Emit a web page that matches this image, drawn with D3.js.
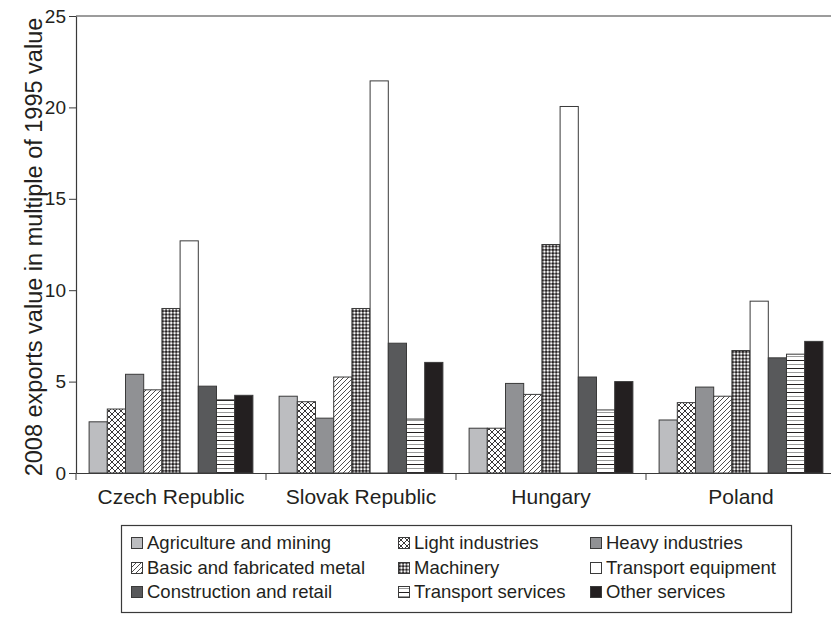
<html>
<head>
  <title>Exports growth 1995-2008</title>
  <script src='https://d3js.org/d3.v7.min.js'></script>
  <style>
    body { margin: 0; background: #fff; }
    text { font-family: 'Liberation Sans', Arial, sans-serif; fill: #231f20; }
  </style>
</head>
<body>
<script>

var countries = ["Czech Republic", "Slovak Republic", "Hungary", "Poland"];

var sectors = ["Agriculture and mining", "Light industries", "Heavy industries",
               "Basic and fabricated metal", "Machinery", "Transport equipment",
               "Construction and retail", "Transport services", "Other services"];

// one array per sector, values in country order
var agriculture  = [2.8, 4.2, 2.45, 2.9];
var light        = [3.5, 3.9, 2.45, 3.85];
var heavy        = [5.4, 3.0, 4.9, 4.7];
var basicMetal   = [4.55, 5.25, 4.3, 4.2];
var machinery    = [9.0, 9.0, 12.5, 6.7];
var transportEq  = [12.7, 21.45, 20.05, 9.4];
var construction = [4.75, 7.1, 5.25, 6.3];
var transportSv  = [4.0, 2.95, 3.45, 6.5];
var otherSv      = [4.25, 6.05, 5.0, 7.2];

var yTicks = [0, 5, 10, 15, 20, 25];

var seriesValues = [agriculture, light, heavy, basicMetal, machinery,
                    transportEq, construction, transportSv, otherSv];

var fills = ["#bcbdc0", "url(#p-cross)", "#909194", "url(#p-diag)", "url(#p-dots)",
             "#ffffff", "#58595b", "url(#p-hlines)", "#231f20"];

var width = 831,
    height = 618;

var plot = {left: 76, right: 836, top: 16, bottom: 473};

var svg = d3.select('body')
            .append('svg')
            .attr('width', width)
            .attr('height', height);

// hatch patterns
var defs = svg.append('defs');

var pc = defs.append('pattern').attr('id', 'p-cross')
  .attr('patternUnits', 'userSpaceOnUse').attr('width', 6).attr('height', 6);
pc.append('rect').attr('width', 6).attr('height', 6).attr('fill', '#fff');
pc.append('path').attr('d', 'M0,0L6,6M6,0L0,6M-1,5L1,7M5,-1L7,1M-1,1L1,-1M5,7L7,5')
  .attr('stroke', '#231f20').attr('stroke-width', 0.9);

var pd = defs.append('pattern').attr('id', 'p-diag')
  .attr('patternUnits', 'userSpaceOnUse').attr('width', 5).attr('height', 5);
pd.append('rect').attr('width', 5).attr('height', 5).attr('fill', '#fff');
pd.append('path').attr('d', 'M0,5L5,0M-1,1L1,-1M4,6L6,4')
  .attr('stroke', '#231f20').attr('stroke-width', 0.8);

var pdots = defs.append('pattern').attr('id', 'p-dots')
  .attr('patternUnits', 'userSpaceOnUse').attr('width', 3.4).attr('height', 3.4);
pdots.append('rect').attr('width', 3.4).attr('height', 3.4).attr('fill', '#fff');
pdots.append('path').attr('d', 'M0,1.7H3.4M1.7,0V3.4')
  .attr('stroke', '#231f20').attr('stroke-width', 0.7);
pdots.append('circle').attr('cx', 1.7).attr('cy', 1.7).attr('r', 1.25).attr('fill', '#231f20');

var ph = defs.append('pattern').attr('id', 'p-hlines')
  .attr('patternUnits', 'userSpaceOnUse').attr('width', 8).attr('height', 8);
ph.append('rect').attr('width', 8).attr('height', 8).attr('fill', '#fff');
ph.append('rect').attr('y', 0).attr('width', 8).attr('height', 1).attr('fill', '#231f20');
ph.append('rect').attr('y', 4).attr('width', 8).attr('height', 1).attr('fill', '#9a9a9a');

var x0 = d3.scaleBand().domain(countries).range([plot.left, plot.right]).padding(0);
var x1 = d3.scaleBand().domain(sectors).range([0, x0.bandwidth()])
           .paddingInner(0).paddingOuter(0.72);
var y = d3.scaleLinear().domain([0, 25]).range([plot.bottom, plot.top]);

// frame: top line
svg.append('line')
  .attr('x1', plot.left).attr('x2', plot.right)
  .attr('y1', plot.top).attr('y2', plot.top)
  .attr('stroke', '#3a3a3a').attr('stroke-width', 1.2);

// bars
var groups = svg.selectAll('g.country')
  .data(countries)
  .enter().append('g')
  .attr('class', 'country')
  .attr('transform', function(d) { return 'translate(' + x0(d) + ',0)'; });

groups.selectAll('rect')
  .data(function(c, ci) {
    return sectors.map(function(s, si) { return {sector: s, i: si, value: seriesValues[si][ci]}; });
  })
  .enter().append('rect')
  .attr('x', function(d) { return x1(d.sector); })
  .attr('y', function(d) { return y(d.value); })
  .attr('width', x1.bandwidth())
  .attr('height', function(d) { return y(0) - y(d.value); })
  .attr('fill', function(d) { return fills[d.i]; })
  .attr('stroke', '#3a3a3a')
  .attr('stroke-width', 1);

// y axis
var yAxis = svg.append('g')
  .attr('transform', 'translate(' + plot.left + ',0)')
  .call(d3.axisLeft(y).tickValues(yTicks).tickSize(7).tickSizeOuter(0).tickPadding(3));
yAxis.select('.domain').attr('stroke', '#3a3a3a').attr('stroke-width', 1.2);
yAxis.selectAll('.tick line').attr('stroke', '#3a3a3a');
yAxis.selectAll('.tick text').style('font-size', '19px').attr('fill', '#231f20');

// x axis: labels at band centres, ticks at band boundaries
var xAxis = svg.append('g')
  .attr('transform', 'translate(0,' + plot.bottom + ')')
  .call(d3.axisBottom(x0).tickSize(0).tickPadding(16));
xAxis.select('.domain').attr('stroke', '#3a3a3a').attr('stroke-width', 1.2);
xAxis.selectAll('.tick text').style('font-size', '21px').attr('fill', '#231f20');

xAxis.selectAll('line.sep')
  .data(countries.concat(['end']))
  .enter().append('line')
  .attr('class', 'sep')
  .attr('x1', function(d) { return d == 'end' ? plot.right : x0(d); })
  .attr('x2', function(d) { return d == 'end' ? plot.right : x0(d); })
  .attr('y1', 0).attr('y2', 7)
  .attr('stroke', '#3a3a3a');

svg.append('text')
  .attr('transform', 'translate(34,247) rotate(-90)')
  .attr('text-anchor', 'middle')
  .attr('dy', '0.35em')
  .style('font-size', '23.5px')
  .text('2008 exports value in multiple of 1995 value');

// legend
var legend = svg.append('g');
legend.append('rect')
  .attr('x', 121.5).attr('y', 525.5)
  .attr('width', 670).attr('height', 87)
  .attr('fill', 'none').attr('stroke', '#3a3a3a').attr('stroke-width', 1.2);

var colX = [131, 398, 590],
    rowY = [543, 568, 592];

var item = legend.selectAll('g.item')
  .data(sectors)
  .enter().append('g')
  .attr('class', 'item')
  .attr('transform', function(d, i) {
    return 'translate(' + colX[i % 3] + ',' + rowY[Math.floor(i / 3)] + ')';
  });

item.append('rect')
  .attr('x', 0.5).attr('y', -5.5)
  .attr('width', 11).attr('height', 11)
  .attr('fill', function(d, i) { return fills[i]; })
  .attr('stroke', '#3a3a3a');

item.append('text')
  .attr('x', 16)
  .attr('dy', '0.35em')
  .style('font-size', '18.5px')
  .text(function(d) { return d; });

</script>
</body>
</html>
